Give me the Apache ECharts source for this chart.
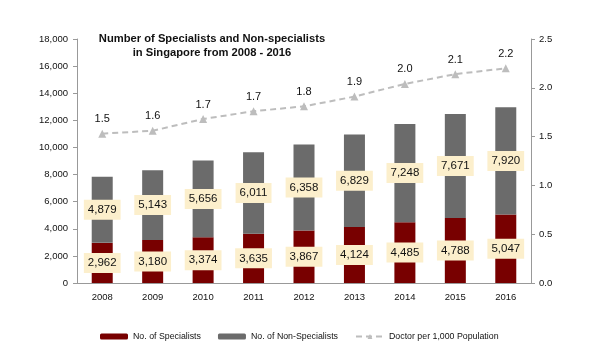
<!DOCTYPE html>
<html><head><meta charset="utf-8">
<script src="https://cdn.jsdelivr.net/npm/echarts@6/dist/echarts.min.js"></script>
<style>html,body{margin:0;padding:0;background:#fff}#c{width:600px;height:360px}</style>
</head><body><div id="c"></div>
<script>
const years = ['2008','2009','2010','2011','2012','2013','2014','2015','2016'];
const specialists = [2962,3180,3374,3635,3867,4124,4485,4788,5047];
const nonSpecialists = [4879,5143,5656,6011,6358,6829,7248,7671,7920];
const doctorRate = [1.53,1.56,1.68,1.76,1.81,1.91,2.04,2.14,2.20];
const doctorRateLabels = ['1.5','1.6','1.7','1.7','1.8','1.9','2.0','2.1','2.2'];

const font = 'Liberation Sans, Arial, sans-serif';
const fmt = v => v.toLocaleString('en-US');
const barLabel = {
  show: true, position: 'inside', color: '#111', fontSize: 11.5, fontFamily: font,
  backgroundColor: '#fcefcc', padding: [4, 4], formatter: p => fmt(p.value)
};
const chart = echarts.init(document.getElementById('c'));
chart.setOption({
  animation: false,
  title: {
    text: 'Number of Specialists and Non-specialists\nin Singapore from 2008 - 2016',
    left: 207, top: 27, textAlign: 'center',
    textStyle: { fontFamily: font, fontSize: 11.2, fontWeight: 'bold', color: '#111', lineHeight: 14 }
  },
  legend: {
    top: 327, left: 95, itemWidth: 28, itemHeight: 6, itemGap: 17,
    textStyle: { fontFamily: font, fontSize: 8.8, color: '#111' },
    data: ['No. of Specialists', 'No. of Non-Specialists', 'Doctor per 1,000 Population']
  },
  grid: { left: 77, right: 69, top: 39, bottom: 77 },
  xAxis: {
    type: 'category', data: years,
    axisLine: { lineStyle: { color: '#999' } },
    axisTick: { length: 4, lineStyle: { color: '#999' } },
    axisLabel: { color: '#111', fontSize: 9.5, fontFamily: font, margin: 9 }
  },
  yAxis: [
    {
      type: 'value', min: 0, max: 18000, interval: 2000,
      splitLine: { show: false },
      axisLine: { show: true, lineStyle: { color: '#999' } },
      axisTick: { show: true, length: 4, lineStyle: { color: '#999' } },
      axisLabel: { color: '#111', fontSize: 9.5, fontFamily: font, margin: 9, formatter: v => fmt(v) }
    },
    {
      type: 'value', min: 0, max: 2.5, interval: 0.5,
      splitLine: { show: false },
      axisLine: { show: true, lineStyle: { color: '#999' } },
      axisTick: { show: true, length: 4, lineStyle: { color: '#999' } },
      axisLabel: { color: '#111', fontSize: 9.5, fontFamily: font, margin: 8, formatter: v => v.toFixed(1) }
    }
  ],
  series: [
    {
      name: 'No. of Specialists', type: 'bar', stack: 'a', data: specialists,
      barWidth: 21, itemStyle: { color: '#780000' }, label: barLabel
    },
    {
      name: 'No. of Non-Specialists', type: 'bar', stack: 'a', data: nonSpecialists,
      barWidth: 21, itemStyle: { color: '#6b6b6b' }, label: barLabel
    },
    {
      name: 'Doctor per 1,000 Population', type: 'line', yAxisIndex: 1, data: doctorRate,
      symbol: 'triangle', symbolSize: 8,
      lineStyle: { color: '#bdbdbd', width: 2, type: [6, 4] },
      itemStyle: { color: '#bdbdbd' },
      label: {
        show: true, position: 'top', distance: 5, color: '#111', fontSize: 11, fontFamily: font,
        formatter: p => doctorRateLabels[p.dataIndex]
      }
    }
  ]
});
</script></body></html>
